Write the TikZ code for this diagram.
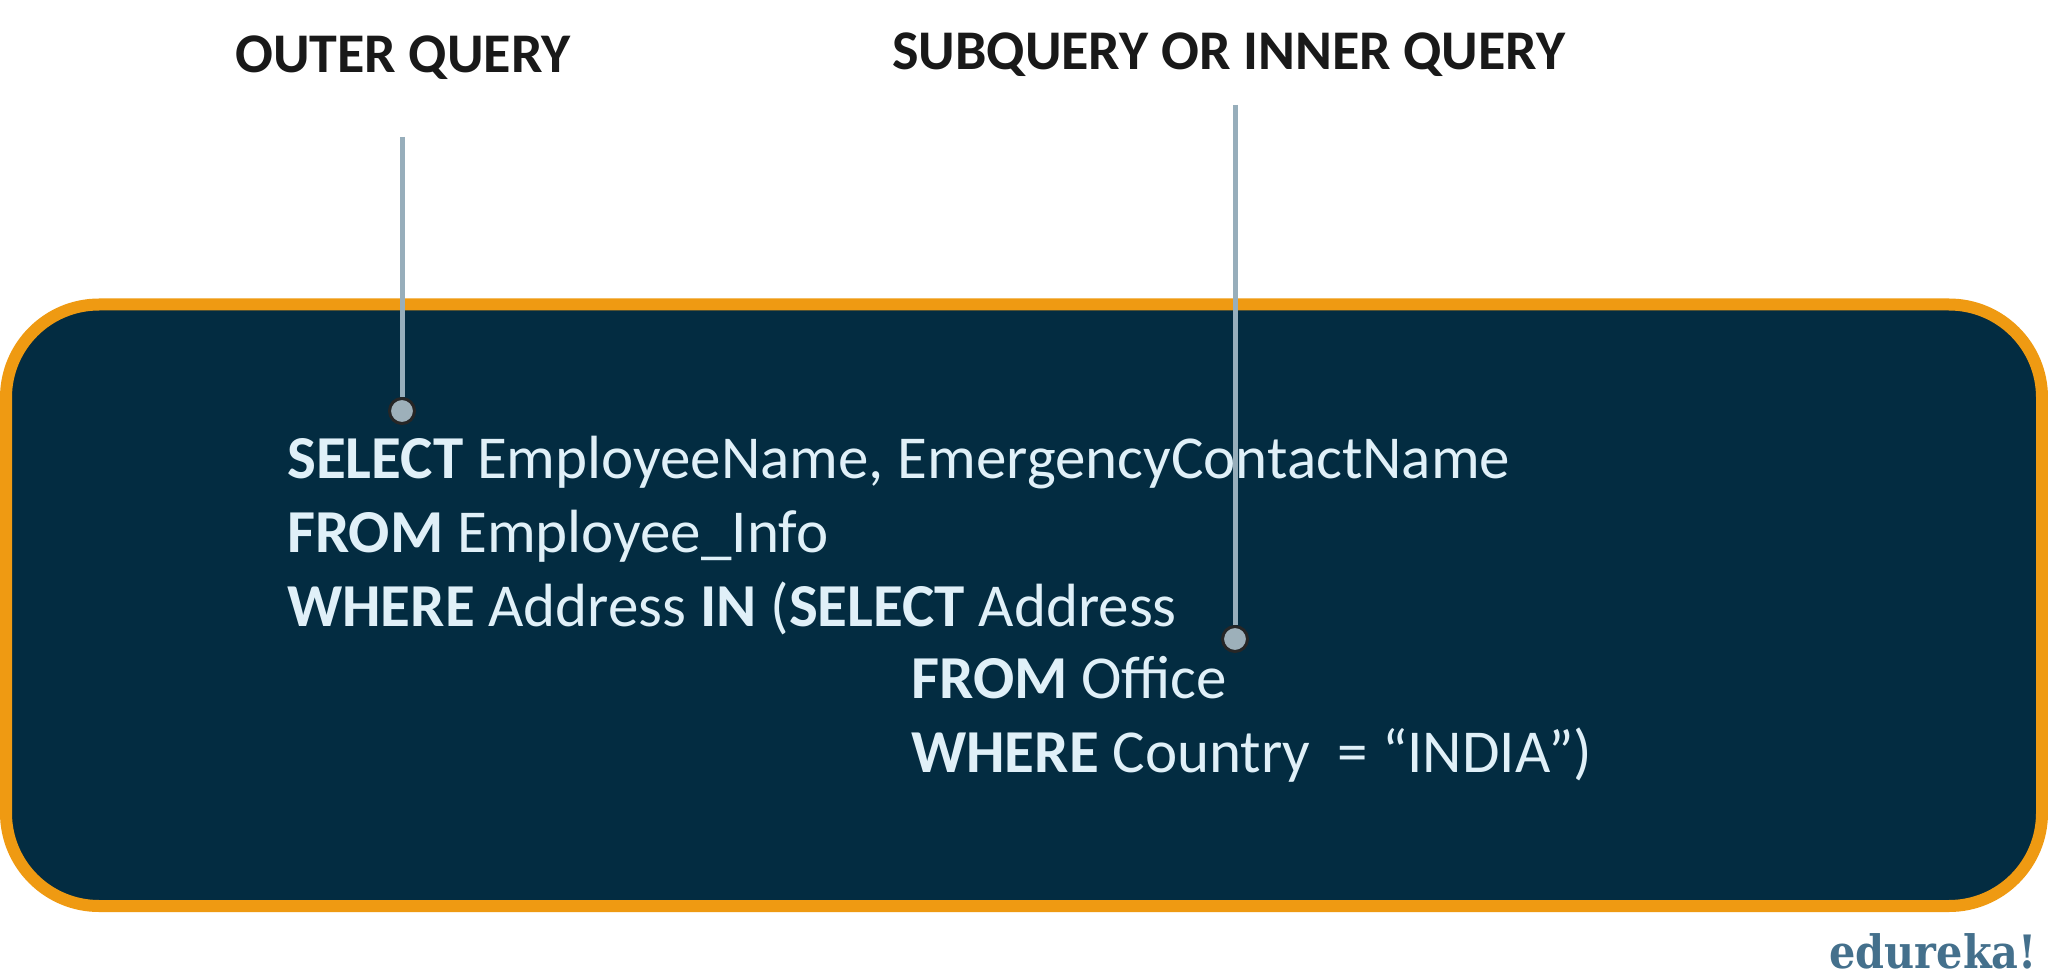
\documentclass[tikz,border=0pt]{standalone}
\usepackage{fontspec}
\setmainfont{Carlito}
\newfontfamily\logofont{DejaVu Serif Condensed}
\definecolor{panel}{HTML}{032C41}
\definecolor{edge}{HTML}{EF9A12}
\definecolor{stem}{HTML}{97AEBB}
\definecolor{dotc}{HTML}{9DB0BA}
\definecolor{code}{HTML}{E0F0F8}
\definecolor{logoc}{HTML}{44708C}
\tikzset{
 x=1pt,y=-1pt,
 head/.style={font=\fontsize{56}{56}\selectfont\bfseries,text=black!90,inner sep=0,anchor=base west},
 codeline/.style={font=\fontsize{61}{61}\selectfont,text=code,inner sep=0,anchor=base west},
 stemline/.style={draw=stem,line width=5pt},
 pin/.style={circle,fill=dotc,draw=black!85,line width=3pt,minimum size=25pt,inner sep=0},
}
\begin{document}
\begin{tikzpicture}
\useasboundingbox (0,0) rectangle (2048,976);
\fill[white] (0,0) rectangle (2048,976);
\draw[fill=panel,draw=edge,line width=12pt,rounded corners=93pt] (6,304.5) rectangle (2042,906);
\node[head] (outer) at (235,73) {OUTER QUERY};
\node[head] (inner) at (892,70) {SUBQUERY OR INNER QUERY};
\coordinate (t1) at (402,137);
\coordinate (t2) at (1235,105);
\node[pin] (p1) at (402,411) {};
\node[pin] (p2) at (1235,639) {};
\draw[stemline] (t1) -- (p1);
\draw[stemline] (t2) -- (p2);
\node[codeline] (l1) at (287,478) {\textbf{SELECT} EmployeeName, EmergencyContactName};
\node[codeline] (l2) at (287,552.5) {\textbf{FROM} Employee\_Info};
\node[codeline] (l3) at (287,626) {\textbf{WHERE} Address \textbf{IN} (\textbf{SELECT} Address};
\node[codeline] (l4) at (911,698.5) {\textbf{FROM} Office};
\node[codeline] (l5) at (911,772.5) {\textbf{WHERE} Country\ \ = “INDIA”)};
\node[font=\logofont\fontsize{46}{46}\selectfont\bfseries,text=logoc,inner sep=0,anchor=base east] (logo) at (2037,968) {edureka!};
\end{tikzpicture}
\end{document}
